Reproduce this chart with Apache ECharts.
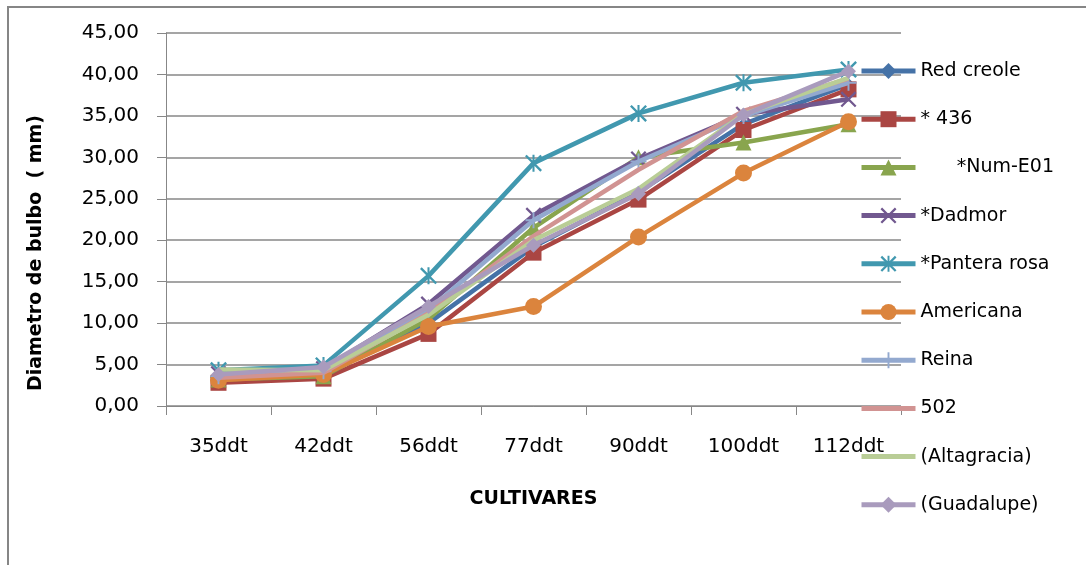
<!DOCTYPE html>
<html>
<head>
<meta charset="utf-8">
<script src="https://cdn.jsdelivr.net/npm/echarts@6/dist/echarts.min.js"></script>
<style>
  html, body { margin: 0; padding: 0; background: #ffffff; }
  #chart { width: 1086px; height: 565px; }
</style>
</head>
<body>
<div id="chart"></div>
<script>
// Days after transplant (x axis categories)
const categories = ['35ddt', '42ddt', '56ddt', '77ddt', '90ddt', '100ddt', '112ddt'];

// Bulb diameter (mm) per cultivar
const redCreole   = [3.5, 3.9, 10.0, 19.2, 25.8, 34.0, 38.8];
const c436        = [2.8, 3.3, 8.7, 18.5, 24.9, 33.3, 38.2];
const numE01      = [3.2, 3.6, 10.5, 21.5, 30.0, 31.8, 34.0];
const dadmor      = [3.9, 4.5, 12.3, 23.0, 29.8, 35.2, 37.0];
const panteraRosa = [4.3, 4.9, 15.7, 29.3, 35.3, 39.0, 40.6];
const americana   = [3.1, 3.8, 9.6, 12.0, 20.4, 28.1, 34.3];
const reina       = [3.6, 4.2, 11.6, 22.4, 29.5, 35.0, 39.0];
const c502        = [3.4, 4.0, 11.2, 20.5, 28.5, 35.6, 39.5];
const altagracia  = [4.4, 4.3, 11.0, 20.0, 26.2, 35.2, 39.6];
const guadalupe   = [3.8, 4.7, 12.0, 19.4, 25.6, 35.1, 40.4];

const seriesNames = ['Red creole', '* 436', '      *Num-E01', '*Dadmor', '*Pantera rosa',
                     'Americana', 'Reina', '502', '(Altagracia)', '(Guadalupe)'];
const seriesData = [redCreole, c436, numE01, dadmor, panteraRosa,
                    americana, reina, c502, altagracia, guadalupe];

// Line marker shapes
const X_MARK = 'path://M0,1 L1,0 L10,9 L9,10 Z M9,0 L10,1 L1,10 L0,9 Z';
const STAR_MARK = 'path://M0,1 L1,0 L10,9 L9,10 Z M9,0 L10,1 L1,10 L0,9 Z M4.4,0 L5.6,0 L5.6,10 L4.4,10 Z';
const PLUS_MARK = 'path://M4.4,0 L5.6,0 L5.6,10 L4.4,10 Z M0,4.4 L10,4.4 L10,5.6 L0,5.6 Z';

const styles = [
  { color: '#4572A7', symbol: 'diamond',  size: 13 },
  { color: '#AA4643', symbol: 'rect',     size: 16 },
  { color: '#89A54E', symbol: 'triangle', size: 16 },
  { color: '#71588F', symbol: X_MARK,     size: 16 },
  { color: '#4198AF', symbol: STAR_MARK,  size: 17 },
  { color: '#DB843D', symbol: 'circle',   size: 17 },
  { color: '#93A9CF', symbol: PLUS_MARK,  size: 16 },
  { color: '#D19392', symbol: 'none',     size: 0 },
  { color: '#B9CD96', symbol: 'none',     size: 0 },
  { color: '#A99BBD', symbol: 'diamond',  size: 15 }
];

const FONT = 'DejaVu Sans';
const GRID_COLOR = '#878787';

const series = seriesNames.map((name, i) => ({
  name: name,
  type: 'line',
  data: seriesData[i],
  symbol: styles[i].symbol,
  symbolSize: styles[i].size,
  showSymbol: styles[i].symbol !== 'none',
  lineStyle: { color: styles[i].color, width: 4.5 },
  itemStyle: { color: styles[i].color },
  z: 2 + i
}));

// Legend entries; lines without markers get no legend marker either
const legendData = seriesNames.map((name, i) =>
  styles[i].symbol === 'none' ? { name: name, itemStyle: { opacity: 0 } } : { name: name }
);

const chart = echarts.init(document.getElementById('chart'), null, { renderer: 'canvas' });
chart.setOption({
  animation: false,
  backgroundColor: '#ffffff',
  grid: { left: 166, top: 33, width: 735, height: 373, containLabel: false },
  xAxis: {
    type: 'category',
    data: categories,
    boundaryGap: true,
    name: 'CULTIVARES',
    nameLocation: 'middle',
    nameGap: 84,
    nameTextStyle: { fontFamily: FONT, fontSize: 19, fontWeight: 'bold', color: '#000' },
    axisLine: { lineStyle: { color: GRID_COLOR, width: 1 } },
    axisTick: { show: true, length: 9, inside: false, lineStyle: { color: GRID_COLOR } },
    axisLabel: { fontFamily: FONT, fontSize: 20, color: '#000', margin: 31 },
    splitLine: { show: false }
  },
  yAxis: {
    type: 'value',
    min: 0,
    max: 45,
    interval: 5,
    axisLine: { show: true, lineStyle: { color: GRID_COLOR, width: 1 } },
    axisTick: { show: true, length: 9, lineStyle: { color: GRID_COLOR } },
    axisLabel: {
      fontFamily: FONT, fontSize: 20, color: '#000', margin: 27,
      formatter: v => v.toFixed(2).replace('.', ',')
    },
    splitLine: { show: true, lineStyle: { color: GRID_COLOR, width: 1.5 } }
  },
  legend: {
    orient: 'vertical',
    left: 854,
    top: 55,
    itemWidth: 54,
    itemHeight: 20,
    itemGap: 26.2,
    selectedMode: false,
    lineStyle: { width: 5 },
    textStyle: { fontFamily: FONT, fontSize: 19, color: '#000', lineHeight: 22 },
    data: legendData
  },
  graphic: [
    {
      type: 'rect',
      shape: { x: 8, y: 7, width: 1200, height: 700 },
      style: { fill: 'none', stroke: '#868686', lineWidth: 2 },
      silent: true,
      z: -10
    },
    {
      type: 'text',
      x: 36,
      y: 253,
      rotation: Math.PI / 2,
      style: {
        text: 'Diametro de bulbo  ( mm)',
        font: 'bold 19px "DejaVu Sans"',
        fill: '#000',
        align: 'center',
        verticalAlign: 'middle'
      },
      silent: true
    }
  ],
  series: series
});
</script>
</body>
</html>
